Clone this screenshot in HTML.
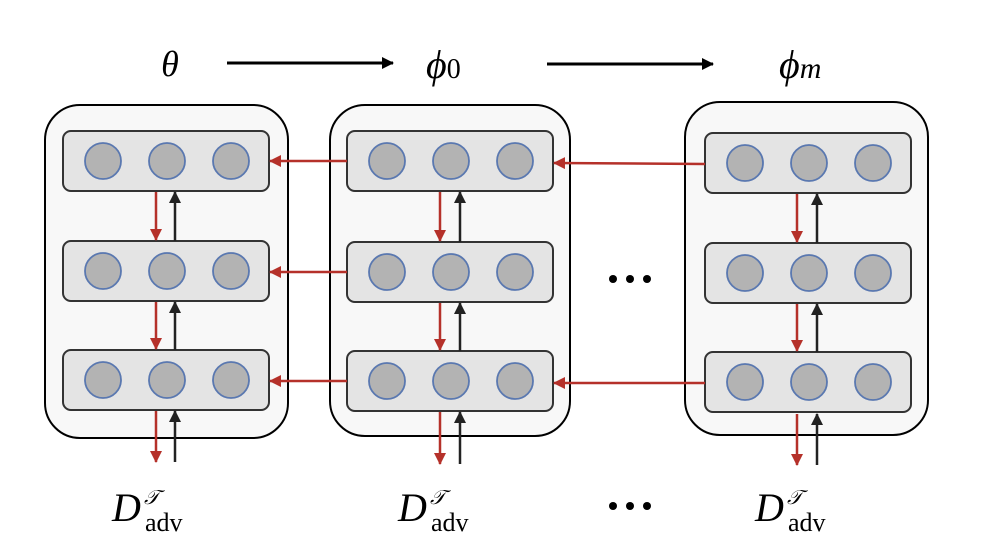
<!DOCTYPE html>
<html><head><meta charset="utf-8"><style>html,body{margin:0;padding:0;background:#fff}svg{display:block}</style></head>
<body>
<svg width="999" height="552" viewBox="0 0 999 552" xmlns="http://www.w3.org/2000/svg">
<defs>
<marker id="ar" markerWidth="12" markerHeight="12" refX="11" refY="6" orient="auto" markerUnits="userSpaceOnUse"><path d="M0,0 L12,6 L0,12 z" fill="#b5312a"/></marker>
<marker id="ab" markerWidth="12" markerHeight="12" refX="11" refY="6" orient="auto" markerUnits="userSpaceOnUse"><path d="M0,0 L12,6 L0,12 z" fill="#222"/></marker>
<marker id="ak" markerWidth="12" markerHeight="12" refX="11" refY="6" orient="auto" markerUnits="userSpaceOnUse"><path d="M0,0 L12,6 L0,12 z" fill="#000"/></marker>
<g id="layer">
<rect x="0" y="0" width="206" height="60" rx="8" fill="#e4e4e4" stroke="#333" stroke-width="2"/>
<circle cx="40" cy="30" r="18" fill="#b3b3b3" stroke="#5a78b0" stroke-width="1.8"/>
<circle cx="104" cy="30" r="18" fill="#b3b3b3" stroke="#5a78b0" stroke-width="1.8"/>
<circle cx="168" cy="30" r="18" fill="#b3b3b3" stroke="#5a78b0" stroke-width="1.8"/>
</g>
</defs>
<g stroke="#000" stroke-width="2" fill="#f8f8f8">
<rect x="45" y="105" width="243" height="333" rx="35"/>
<rect x="330" y="105" width="240" height="331" rx="35"/>
<rect x="685" y="102" width="243" height="333" rx="35"/>
</g>
<use href="#layer" x="63" y="131"/><use href="#layer" x="63" y="241"/><use href="#layer" x="63" y="350"/>
<use href="#layer" x="347" y="131"/><use href="#layer" x="347" y="242"/><use href="#layer" x="347" y="351"/>
<use href="#layer" x="705" y="133"/><use href="#layer" x="705" y="243"/><use href="#layer" x="705" y="352"/>
<g stroke="#b5312a" stroke-width="2.5" marker-end="url(#ar)">
<line x1="156" y1="192" x2="156" y2="240"/><line x1="156" y1="302" x2="156" y2="349"/><line x1="156" y1="411" x2="156" y2="462"/>
<line x1="440" y1="192" x2="440" y2="241"/><line x1="440" y1="303" x2="440" y2="350"/><line x1="440" y1="412" x2="440" y2="464"/>
<line x1="797" y1="194" x2="797" y2="242"/><line x1="797" y1="304" x2="797" y2="351"/><line x1="797" y1="414" x2="797" y2="465"/>
<line x1="347" y1="161" x2="270" y2="161"/><line x1="347" y1="272" x2="270" y2="272"/><line x1="347" y1="381" x2="270" y2="381"/>
<line x1="705" y1="164" x2="554" y2="163"/><line x1="705" y1="383" x2="554" y2="383"/>
</g>
<g stroke="#222" stroke-width="2.5" marker-end="url(#ab)">
<line x1="175" y1="241" x2="175" y2="192"/><line x1="175" y1="350" x2="175" y2="302"/><line x1="175" y1="462" x2="175" y2="411"/>
<line x1="460" y1="242" x2="460" y2="192"/><line x1="460" y1="351" x2="460" y2="303"/><line x1="460" y1="464" x2="460" y2="412"/>
<line x1="817" y1="243" x2="817" y2="194"/><line x1="817" y1="352" x2="817" y2="304"/><line x1="817" y1="465" x2="817" y2="414"/>
</g>
<g stroke="#000" stroke-width="3" marker-end="url(#ak)">
<line x1="227" y1="63" x2="393" y2="63"/><line x1="547" y1="64" x2="713" y2="64"/>
</g>
<g fill="#000">
<circle cx="613" cy="279" r="4"/><circle cx="630" cy="279" r="4"/><circle cx="647" cy="279" r="4"/>
<circle cx="613" cy="506" r="4"/><circle cx="630" cy="506" r="4"/><circle cx="647" cy="506" r="4"/>
</g>
<g font-family="Liberation Serif, serif" fill="#000">
<text x="170" y="76" font-size="36" font-style="italic" text-anchor="middle">θ</text>
<text x="426" y="78" font-size="40" font-style="italic">ϕ<tspan font-style="normal" font-size="28">0</tspan></text>
<text x="779" y="78" font-size="40" font-style="italic">ϕ<tspan font-size="30">m</tspan></text>
<g font-size="40">
<text x="112" y="521" font-style="italic">D</text><text x="144" y="504" font-size="20" font-style="italic">𝒯</text><text x="145" y="531" font-size="26">adv</text>
<text x="398" y="521" font-style="italic">D</text><text x="430" y="504" font-size="20" font-style="italic">𝒯</text><text x="431" y="531" font-size="26">adv</text>
<text x="755" y="521" font-style="italic">D</text><text x="787" y="504" font-size="20" font-style="italic">𝒯</text><text x="788" y="531" font-size="26">adv</text>
</g>
</g>
</svg>
</body></html>
